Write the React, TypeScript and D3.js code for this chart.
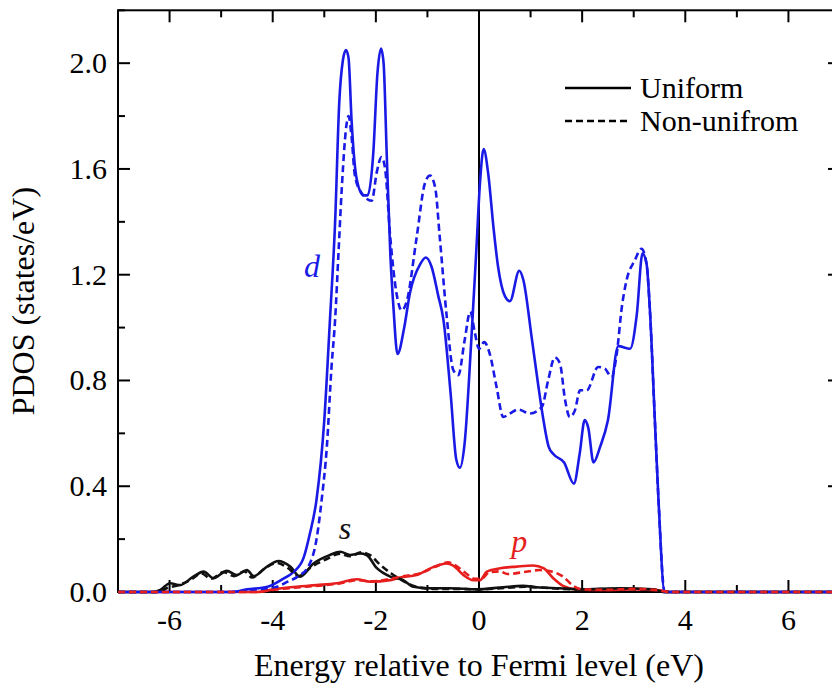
import React from 'react';
import * as d3 from 'd3';

// energy (eV) vs PDOS (states/eV)
const dUniform: [number, number][] = [
  [-7, 0], [-4.8, 0], [-4.5, 0.01], [-4.1, 0.02], [-3.8, 0.05], [-3.6, 0.075], [-3.4, 0.13],
  [-3.28, 0.22], [-3.15, 0.35], [-3.0, 0.65], [-2.89, 1.03], [-2.79, 1.4], [-2.71, 1.85],
  [-2.64, 2.01], [-2.58, 2.05], [-2.53, 2.02], [-2.47, 1.78], [-2.37, 1.56], [-2.24, 1.5],
  [-2.16, 1.5], [-2.05, 1.66], [-1.97, 1.96], [-1.9, 2.055], [-1.85, 2.0], [-1.79, 1.66],
  [-1.72, 1.28], [-1.66, 1.08], [-1.58, 0.9], [-1.45, 1.0], [-1.34, 1.13], [-1.14, 1.24],
  [-1.03, 1.265], [-0.92, 1.23], [-0.79, 1.12], [-0.69, 1.03], [-0.55, 0.75], [-0.44, 0.5],
  [-0.37, 0.47], [-0.28, 0.56], [-0.15, 0.95], [-0.05, 1.3], [0.02, 1.55], [0.09, 1.675],
  [0.18, 1.58], [0.28, 1.38], [0.37, 1.23], [0.5, 1.12], [0.6, 1.1], [0.78, 1.215], [0.86, 1.18],
  [1.02, 0.965], [1.15, 0.78], [1.25, 0.65], [1.35, 0.55], [1.45, 0.52], [1.65, 0.49],
  [1.84, 0.41], [1.95, 0.52], [2.05, 0.65], [2.12, 0.62], [2.22, 0.49], [2.35, 0.55],
  [2.5, 0.65], [2.7, 0.93], [2.93, 0.92], [3.06, 1.05], [3.17, 1.28], [3.25, 1.24],
  [3.31, 1.08], [3.41, 0.65], [3.48, 0.35], [3.6, 0], [7, 0],
];
const dNonUniform: [number, number][] = [
  [-7, 0], [-4.8, 0], [-4.4, 0.008], [-4.0, 0.015], [-3.7, 0.04], [-3.5, 0.06], [-3.3, 0.1],
  [-3.15, 0.2], [-3.05, 0.35], [-2.95, 0.55], [-2.86, 0.85], [-2.79, 1.03], [-2.72, 1.3],
  [-2.66, 1.53], [-2.56, 1.78], [-2.53, 1.8], [-2.47, 1.72], [-2.41, 1.58], [-2.31, 1.52],
  [-2.08, 1.48], [-1.98, 1.59], [-1.89, 1.645], [-1.82, 1.6], [-1.72, 1.34], [-1.6, 1.13],
  [-1.5, 1.065], [-1.4, 1.1], [-1.21, 1.34], [-1.05, 1.545], [-0.95, 1.575], [-0.85, 1.53],
  [-0.76, 1.34], [-0.63, 1.05], [-0.5, 0.84], [-0.4, 0.82], [-0.28, 0.95], [-0.17, 1.06],
  [-0.08, 0.98], [0.0, 0.92], [0.1, 0.945], [0.21, 0.9], [0.34, 0.776], [0.47, 0.662],
  [0.6, 0.675], [0.76, 0.69], [0.99, 0.675], [1.22, 0.7], [1.34, 0.8], [1.47, 0.887],
  [1.57, 0.864], [1.67, 0.725], [1.76, 0.662], [1.86, 0.687], [1.96, 0.763], [2.09, 0.763],
  [2.31, 0.851], [2.44, 0.845], [2.57, 0.813], [2.67, 0.9], [2.77, 1.078], [2.86, 1.178],
  [3.02, 1.254], [3.15, 1.298], [3.25, 1.24], [3.31, 1.08], [3.41, 0.65], [3.48, 0.35],
  [3.6, 0], [7, 0],
];
const sUniform: [number, number][] = [
  [-7, 0], [-6.3, 0], [-6.18, 0.008], [-5.99, 0.033], [-5.8, 0.026], [-5.54, 0.058],
  [-5.34, 0.077], [-5.15, 0.052], [-4.89, 0.08], [-4.7, 0.064], [-4.5, 0.083], [-4.37, 0.06],
  [-4.11, 0.096], [-3.89, 0.117], [-3.66, 0.096], [-3.47, 0.058], [-3.21, 0.108], [-2.89, 0.14],
  [-2.69, 0.152], [-2.5, 0.14], [-2.31, 0.146], [-2.18, 0.14], [-1.98, 0.09], [-1.72, 0.058],
  [-1.47, 0.045], [-1.27, 0.02], [-0.95, 0.014], [-0.56, 0.014], [-0.05, 0.01], [0.47, 0.018],
  [0.85, 0.023], [1.12, 0.018], [1.57, 0.014], [1.96, 0.01], [2.73, 0.014], [3.38, 0.01],
  [3.6, 0], [7, 0],
];
const sNonUniform: [number, number][] = [
  [-7, 0], [-6.2, 0], [-6.05, 0.015], [-5.85, 0.025], [-5.6, 0.045], [-5.38, 0.07], [-5.2, 0.05],
  [-4.95, 0.075], [-4.75, 0.06], [-4.55, 0.078], [-4.4, 0.055], [-4.15, 0.09], [-3.92, 0.11],
  [-3.7, 0.09], [-3.5, 0.06], [-3.25, 0.095], [-2.95, 0.125], [-2.7, 0.145], [-2.5, 0.135],
  [-2.28, 0.15], [-2.12, 0.14], [-1.9, 0.1], [-1.7, 0.07], [-1.5, 0.045], [-1.25, 0.022],
  [-0.9, 0.012], [-0.5, 0.012], [0, 0.01], [0.5, 0.015], [0.9, 0.02], [1.2, 0.017],
  [1.6, 0.012], [2.0, 0.01], [2.8, 0.012], [3.4, 0.008], [3.6, 0], [7, 0],
];
const pUniform: [number, number][] = [
  [-7, 0], [-4.3, 0], [-3.99, 0.01], [-3.66, 0.018], [-3.15, 0.026], [-2.76, 0.033],
  [-2.37, 0.048], [-2.11, 0.039], [-1.72, 0.045], [-1.53, 0.055], [-1.21, 0.064], [-0.89, 0.094],
  [-0.63, 0.108], [-0.5, 0.1], [-0.3, 0.064], [-0.11, 0.045], [0.02, 0.045], [0.15, 0.077],
  [0.41, 0.09], [0.73, 0.096], [1.05, 0.1], [1.25, 0.09], [1.44, 0.052], [1.63, 0.023],
  [1.89, 0.01], [2.5, 0.008], [3.0, 0.01], [3.5, 0.006], [3.7, 0], [7, 0],
];
const pNonUniform: [number, number][] = [
  [-7, 0], [-4.3, 0], [-4.0, 0.008], [-3.6, 0.016], [-3.1, 0.024], [-2.7, 0.032], [-2.35, 0.045],
  [-2.1, 0.04], [-1.7, 0.05], [-1.45, 0.06], [-1.15, 0.07], [-0.85, 0.095], [-0.6, 0.112],
  [-0.45, 0.1], [-0.25, 0.07], [-0.08, 0.05], [0.05, 0.05], [0.2, 0.075], [0.4, 0.078],
  [0.55, 0.068], [0.86, 0.075], [1.18, 0.083], [1.45, 0.075], [1.63, 0.058], [1.83, 0.023],
  [2.0, 0.01], [2.5, 0.008], [3.0, 0.012], [3.5, 0.006], [3.7, 0], [7, 0],
];

const xMajorTicks = [-6, -4, -2, 0, 2, 4, 6];
const xMinorTicks = [-7, -5, -3, -1, 1, 3, 5, 7];
const yMajorTicks = [0, 0.4, 0.8, 1.2, 1.6, 2.0];
const yMinorTicks = [0.2, 0.6, 1.0, 1.4, 1.8, 2.2];
const legendLabels = ['Uniform', 'Non-unifrom'];
const orbitalLabels = ['d', 's', 'p'];
const orbitalAnchors: [number, number][] = [[-3.24, 1.19], [-2.6, 0.2], [0.78, 0.15]];

const BLUE = '#1a1ae6';
const RED = '#e61e1e';
const BLACK = '#111';
const orbitalColors = [BLUE, BLACK, RED];
const SERIF = 'Liberation Serif';

const W = 832;
const H = 688;
const left = 118;
const right = 840; // plot runs past the picture edge
const top = 10.3;
const bottom = 592;
const MAJOR = 12;
const MINOR = 7;
const DASH = '7,4';

const x = d3.scaleLinear().domain([-7, 7]).range([left, right]);
const y = d3.scaleLinear().domain([0, 2.2]).range([bottom, top]);
const curve = d3.line<[number, number]>()
  .x(d => x(d[0]))
  .y(d => y(d[1]))
  .curve(d3.curveMonotoneX);
const fmtY = d3.format('.1f');

const series = [
  { key: 'pU', data: pUniform, color: RED, dash: undefined },
  { key: 'sU', data: sUniform, color: BLACK, dash: undefined },
  { key: 'dU', data: dUniform, color: BLUE, dash: undefined },
  { key: 'sN', data: sNonUniform, color: BLACK, dash: DASH },
  { key: 'dN', data: dNonUniform, color: BLUE, dash: DASH },
  { key: 'pN', data: pNonUniform, color: RED, dash: DASH },
];

const css = `svg.pdos text { font-family: 'Liberation Serif', 'Times New Roman', serif !important; }`;

const App = () => {
  const tick = { stroke: '#000', strokeWidth: 2 };
  return (
    <svg className="pdos" width={W} height={H} fontFamily={SERIF}
      style={{ position: 'absolute', left: 0, top: 0 }}>
      <style>{css}</style>
      {/* frame */}
      <rect x={left} y={top} width={right - left} height={bottom - top} fill="none" stroke="#000" strokeWidth={2} />

      {/* x ticks, inward on bottom and top */}
      {xMajorTicks.map(t => (
        <g key={'xM' + t}>
          <line x1={x(t)} x2={x(t)} y1={bottom} y2={bottom - MAJOR} {...tick} />
          <line x1={x(t)} x2={x(t)} y1={top} y2={top + MAJOR} {...tick} />
          <text x={x(t)} y={630} textAnchor="middle" fontFamily={SERIF} fontSize={30}>{String(t)}</text>
        </g>
      ))}
      {xMinorTicks.map(t => (
        <g key={'xm' + t}>
          <line x1={x(t)} x2={x(t)} y1={bottom} y2={bottom - MINOR} {...tick} />
          <line x1={x(t)} x2={x(t)} y1={top} y2={top + MINOR} {...tick} />
        </g>
      ))}

      {/* y ticks, inward on left and right */}
      {yMajorTicks.map(t => (
        <g key={'yM' + t}>
          <line x1={left} x2={left + MAJOR} y1={y(t)} y2={y(t)} {...tick} />
          <line x1={right} x2={right - MAJOR} y1={y(t)} y2={y(t)} {...tick} />
          <text x={107} y={y(t) + 10} textAnchor="end" fontFamily={SERIF} fontSize={30}>{fmtY(t)}</text>
        </g>
      ))}
      {yMinorTicks.map(t => (
        <g key={'ym' + t}>
          <line x1={left} x2={left + MINOR} y1={y(t)} y2={y(t)} {...tick} />
          <line x1={right} x2={right - MINOR} y1={y(t)} y2={y(t)} {...tick} />
        </g>
      ))}

      {/* Fermi level */}
      <line x1={x(0)} x2={x(0)} y1={top} y2={bottom} stroke="#000" strokeWidth={2} />

      {series.map(s => (
        <path key={s.key} d={curve(s.data) || ''} fill="none" stroke={s.color} strokeWidth={2.6}
          strokeLinejoin="round" strokeDasharray={s.dash} />
      ))}

      {orbitalLabels.map((label, i) => (
        <text key={label} x={x(orbitalAnchors[i][0])} y={y(orbitalAnchors[i][1])} textAnchor="middle"
          fill={orbitalColors[i]} fontFamily={SERIF} fontSize={32} fontStyle="italic">
          {label}
        </text>
      ))}

      {/* legend */}
      {legendLabels.map((label, i) => {
        const ly = 88 + i * 33;
        return (
          <g key={label}>
            <line x1={565} x2={631} y1={ly} y2={ly} stroke="#000" strokeWidth={2.6}
              strokeDasharray={i === 1 ? DASH : undefined} />
            <text x={640} y={ly + 10} fontFamily={SERIF} fontSize={30}>{label}</text>
          </g>
        );
      })}

      {/* axis titles */}
      <text x={(left + right) / 2} y={676} textAnchor="middle" fontFamily={SERIF} fontSize={32}>
        Energy relative to Fermi level (eV)
      </text>
      <text transform={`translate(34,${(top + bottom) / 2}) rotate(-90)`} textAnchor="middle"
        fontFamily={SERIF} fontSize={32}>
        PDOS (states/eV)
      </text>
    </svg>
  );
};

export default App;
